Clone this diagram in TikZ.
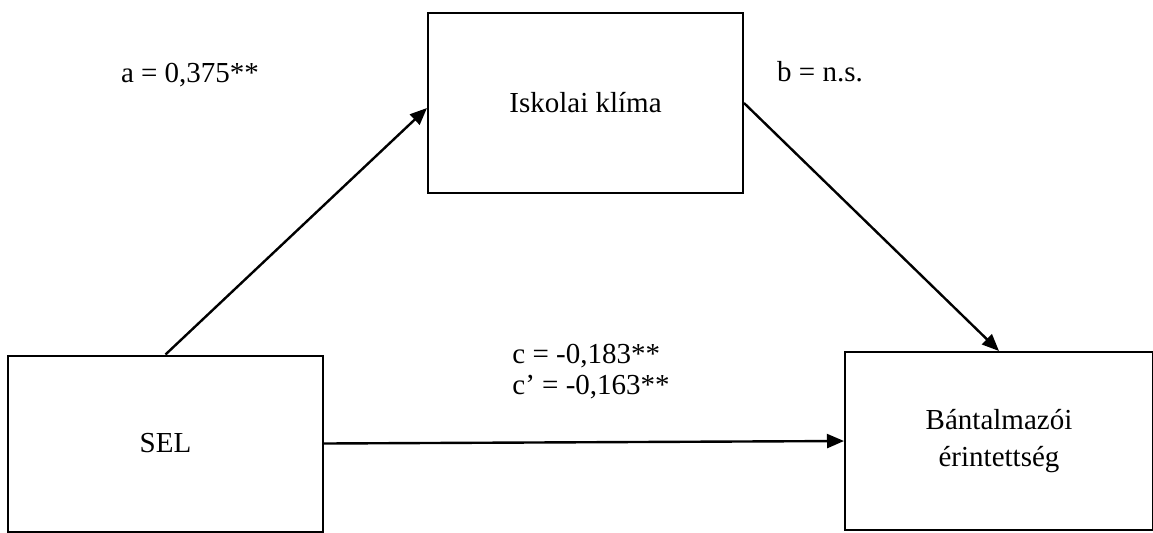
\documentclass[tikz,border=0pt]{standalone}
\usepackage{fontspec}
\setmainfont{Liberation Serif}
\usetikzlibrary{arrows.meta,positioning}
\tikzset{%
   box/.style={
      draw=black,
      line width=1pt,
      minimum width=157.5pt,
      minimum height=89pt,
      align=center,
      inner sep=2pt
   },
   link/.style={
      -{Triangle[length=8.5pt, width=7pt]},
      line width=1.2pt
   },
   lbl/.style={
      inner sep=0pt,
      align=left
   },
}

\begin{document}
\begin{tikzpicture}[x=0.5pt, y=-0.5pt, font=\fontsize{14.5}{15.5}\selectfont]
      \useasboundingbox (0,0) rectangle (1153,532);
      \node[box, minimum height=90pt] (isk) at (585.5,103) {Iskolai klíma};
      \node[box, minimum height=88pt] (sel) at (165.5,443.5) {SEL};
      \node[box, minimum width=154pt] (bant) at (999,441) {Bántalmazói\\[3pt] érintettség};
      % paths
      \draw[link] (sel.north) -- ([yshift=-2.5pt]isk.west);
      \draw[link] (isk.east) -- (bant.north);
      \draw[link] (sel.east) -- (bant.west);
      % coefficients
      \node[lbl] (a) at (190,75) {a = 0,375**};
      \node[lbl] (b) at (820,72) {b = n.s.};
      \node[lbl, anchor=west] (c) at (512,372) {c = -0,183**\\ c’ = -0,163**};
   \end{tikzpicture}
\end{document}
